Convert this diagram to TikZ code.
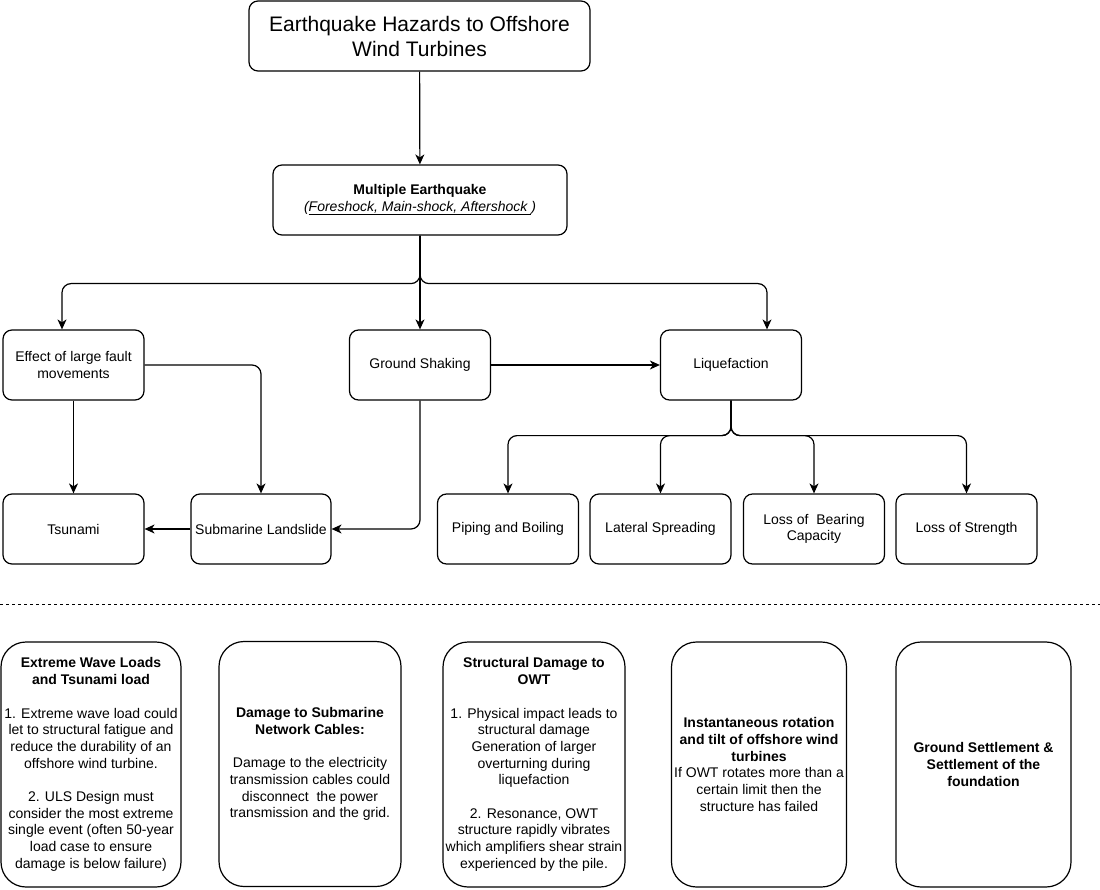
\documentclass[tikz,border=0pt]{standalone}
\usepackage{fontspec}
\setmainfont{Liberation Sans}
\usetikzlibrary{arrows.meta}
\begin{document}
\begin{tikzpicture}[
    x=1pt, y=-1pt,
    block/.style={draw, rectangle, rounded corners=9pt, line width=1.2pt, minimum height=70pt, minimum width=141pt, inner sep=0pt, align=center, font=\fontsize{14}{16.5}\selectfont},
    card/.style={draw, rectangle, rounded corners=25pt, line width=1.2pt, minimum height=245pt, minimum width=181pt, inner sep=0pt, align=center, font=\fontsize{14}{16.7}\selectfont},
    link/.style={-{Stealth[length=10pt, width=9pt, inset=3pt]}, line width=1.2pt, rounded corners=9pt}
  ]
    \useasboundingbox (0,0) rectangle (1100,890);

    % Blocks
    \node[block, minimum width=341pt, font=\fontsize{21}{25}\selectfont] at (419.5,36) (title) {Earthquake Hazards to Offshore\\Wind Turbines};
    \node[block, minimum width=294pt] at (420,200) (quake) {\textbf{Multiple Earthquake}\\\textit{(\underline{Foreshock, Main-shock, Aftershock })}};

    \node[block] at (73.5,365) (fault)  {Effect of large fault\\movements};
    \node[block] at (420,365)  (shake)  {Ground Shaking};
    \node[block] at (731,365)  (liq)    {Liquefaction};

    \node[block] at (73.5,529) (tsunami)   {Tsunami};
    \node[block, minimum width=140pt] at (261,529) (landslide) {Submarine Landslide};
    \node[block] at (508,529)  (piping)    {Piping and Boiling};
    \node[block] at (660.5,529) (lateral)  {Lateral Spreading};
    \node[block] at (814,529)  (bearing)   {Loss of~ Bearing\\Capacity};
    \node[block] at (966.5,529) (strength) {Loss of Strength};

    % Consequences
    \node[card, minimum width=180pt] at (91,764.5) (wave) {\textbf{Extreme Wave Loads}\\\textbf{and Tsunami load}\\[16.7pt]1. Extreme wave load could\\let to structural fatigue and\\reduce the durability of an\\offshore wind turbine.\\[16.7pt]2. ULS Design must\\consider the most extreme\\single event (often 50-year\\load case to ensure\\damage is below failure)};
    \node[card, minimum width=182pt] at (310,764) (cables) {\textbf{Damage to Submarine}\\\textbf{Network Cables:}\\[16.7pt]Damage to the electricity\\transmission cables could\\disconnect~ the power\\transmission and the grid.};
    \node[card, minimum width=182pt] at (534,764.5) (owt) {\textbf{Structural Damage to}\\\textbf{OWT}\\[16.7pt]1. Physical impact leads to\\structural damage\\Generation of larger\\overturning during\\liquefaction\\[16.7pt]2. Resonance, OWT\\structure rapidly vibrates\\which amplifiers shear strain\\experienced by the pile.};
    \node[card, minimum width=175pt] at (759,764.5) (tilt) {\textbf{Instantaneous rotation}\\\textbf{and tilt of offshore wind}\\\textbf{turbines}\\If OWT rotates more than a\\certain limit then the\\structure has failed};
    \node[card, minimum width=175pt] at (983.5,764.5) (settle) {\textbf{Ground Settlement \&}\\\textbf{Settlement of the}\\\textbf{foundation}};

    % Separator
    \coordinate (sepL) at (0,604);
    \coordinate (sepR) at (1100,604);
    \draw[line width=0.9pt, dash pattern=on 3pt off 3pt] (sepL) -- (sepR);

    % Connections
    \draw[link] (title) -- (quake);
    \draw[link] (quake.south) -- ++(0,48) -| ([xshift=-11.5pt]fault.north);
    \draw[link] (quake.south) -- (shake.north);
    \draw[link] (quake.south) -- ++(0,48) -| ([xshift=36pt]liq.north);

    \draw[link] (fault) -- (tsunami);
    \draw[link] (fault.east) -| (landslide.north);
    \draw[link] (shake.south) |- (landslide.east);
    \draw[link] (landslide) -- (tsunami);
    \draw[link] (shake) -- (liq);

    \foreach \n in {piping, lateral, bearing, strength}
      \draw[link] (liq.south) -- ++(0,35) -| (\n.north);

  \end{tikzpicture}
\end{document}
